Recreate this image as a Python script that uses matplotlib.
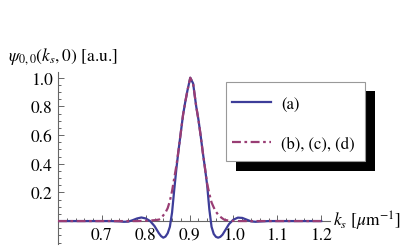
import numpy as np
import matplotlib
matplotlib.use("Agg")
import matplotlib.pyplot as plt
from matplotlib.patches import Rectangle

# k_s grid [1/um] and the two wavefunction slices
k_s = [0.60, 0.65, 0.70, 0.72, 0.74, 0.75, 0.76, 0.77, 0.78, 0.79,
       0.80, 0.81, 0.82, 0.83, 0.835, 0.84, 0.845, 0.85, 0.855, 0.86,
       0.865, 0.87, 0.875, 0.88, 0.885, 0.89, 0.895, 0.9015, 0.908, 0.915,
       0.92, 0.925, 0.93, 0.935, 0.94, 0.945, 0.95, 0.955, 0.96, 0.965,
       0.97, 0.975, 0.98, 0.99, 1.00, 1.01, 1.02, 1.03, 1.04, 1.05,
       1.06, 1.08, 1.10, 1.15, 1.20]
psi_a = [0, 0, 0, 0, -0.002, -0.005, -0.004, 0.006, 0.018, 0.025,
         0.018, 0.0, -0.035, -0.085, -0.105, -0.116, -0.108, -0.085, -0.040, 0.060,
         0.220, 0.370, 0.500, 0.620, 0.740, 0.830, 0.910, 1.000, 0.960, 0.800,
         0.710, 0.600, 0.480, 0.370, 0.250, 0.080, -0.040, -0.090, -0.110, -0.116,
         -0.110, -0.095, -0.070, -0.020, 0.010, 0.024, 0.022, 0.010, -0.002, -0.005,
         -0.003, 0, 0, 0, 0]
psi_bcd = [0, 0, 0, 0, 0, 0, 0, 0, 0, 0.001,
           0.002, 0.004, 0.006, 0.010, 0.020, 0.040, 0.060, 0.090, 0.140, 0.210,
           0.300, 0.390, 0.500, 0.620, 0.740, 0.830, 0.910, 1.000, 0.960, 0.800,
           0.710, 0.600, 0.480, 0.370, 0.260, 0.190, 0.130, 0.095, 0.065, 0.045,
           0.030, 0.018, 0.008, 0.003, 0.001, 0, 0, 0, 0, 0,
           0, 0, 0, 0, 0]
labels = ["(a)", "(b), (c), (d)"]

blue = "#3d3d99"
purple = "#993d74"
axisColor = "#666666"
fs = 12.5

plt.rcParams['font.family'] = ['STIXGeneral', 'DejaVu Serif']
plt.rcParams['mathtext.fontset'] = 'stix'

W, H = 405, 253
fig = plt.figure(figsize=(W / 100, H / 100), dpi=100)

def fx(px):
    return px / W

def fy(py):
    return 1 - py / H

ax = fig.add_axes([fx(58), fy(245), fx(330) - fx(58), fy(73) - fy(245)])
ax.set_xlim(0.6, 1.22)
ax.set_ylim(-0.16, 1.04)

la, = ax.plot(k_s, psi_a, color=blue, lw=1.6, zorder=3)
lb, = ax.plot(k_s, psi_bcd, color=purple, lw=1.6, dashes=(4, 1.6, 1.2, 1.6), zorder=4)

for s in ['top', 'right']:
    ax.spines[s].set_visible(False)
ax.spines['bottom'].set_position(('data', 0))
for s in ['bottom', 'left']:
    ax.spines[s].set_color(axisColor)
    ax.spines[s].set_linewidth(0.8)

ax.set_xticks([0.7, 0.8, 0.9, 1.0, 1.1, 1.2])
ax.set_xticklabels(["0.7", "0.8", "0.9", "1.0", "1.1", "1.2"])
ax.set_xticks([0.62, 0.64, 0.66, 0.68, 0.72, 0.74, 0.76, 0.78, 0.82, 0.84, 0.86, 0.88,
               0.92, 0.94, 0.96, 0.98, 1.02, 1.04, 1.06, 1.08, 1.12, 1.14, 1.16, 1.18], minor=True)
ax.set_yticks([0.2, 0.4, 0.6, 0.8, 1.0])
ax.set_yticklabels(["0.2", "0.4", "0.6", "0.8", "1.0"])
ax.set_yticks([-0.15, -0.1, -0.05, 0.05, 0.1, 0.15, 0.25, 0.3, 0.35, 0.45, 0.5, 0.55,
               0.65, 0.7, 0.75, 0.85, 0.9, 0.95], minor=True)
ax.tick_params(which='both', direction='in', color=axisColor, width=0.7, labelsize=fs)
ax.tick_params(which='major', length=4, pad=4)
ax.tick_params(which='minor', length=2)

fig.text(fx(8), fy(57), r"$\psi_{0,0}(k_s,0)$ [a.u.]", fontsize=fs, va='center', ha='left')
fig.text(fx(333), fy(221), r"$k_s$ [$\mu$m$^{-1}$]", fontsize=fs, va='center', ha='left')

# legend box with hard black shadow
fig.add_artist(Rectangle((fx(236), fy(172)), fx(375) - fx(236), fy(92) - fy(172),
                         transform=fig.transFigure, facecolor='black', edgecolor='none', zorder=5))
fig.add_artist(Rectangle((fx(226), fy(162)), fx(365) - fx(226), fy(83) - fy(162),
                         transform=fig.transFigure, facecolor='white', edgecolor='#999999', lw=0.8, zorder=6))
leg = fig.legend([la, lb], labels, loc='upper left', bbox_to_anchor=(fx(232), fy(97)),
                 bbox_transform=fig.transFigure, frameon=False, fontsize=12,
                 handlelength=2.35, handletextpad=0.6, labelspacing=1.45,
                 borderpad=0, borderaxespad=0)
leg.set_zorder(7)

fig.savefig("out.png", dpi=100)
